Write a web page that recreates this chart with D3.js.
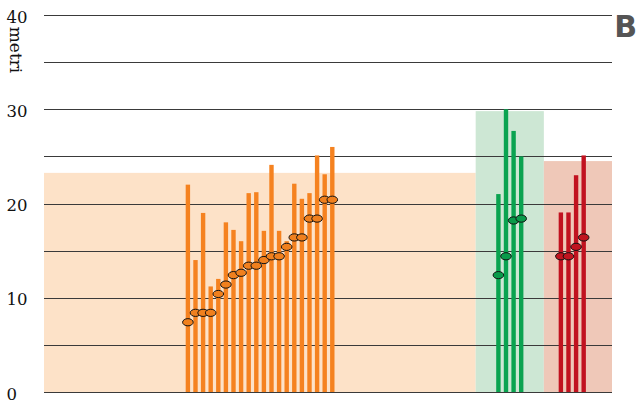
<!DOCTYPE html>
<html><head><meta charset="utf-8">
<script src="https://cdn.jsdelivr.net/npm/d3@7"></script>
<style>body{margin:0;background:#fff}svg{display:block}</style>
</head><body>
<script>
// Data
const orangeMax = [22, 14, 19, 11.2, 12, 18, 17.2, 16, 21.1, 21.2, 17.1, 24.1, 17.1, 16, 22.1, 20.5, 21.1, 25.1, 23.1, 26];
const orangeDot = [7.4, 8.4, 8.4, 8.4, 10.4, 11.4, 12.4, 12.65, 13.4, 13.4, 14, 14.4, 14.4, 15.4, 16.4, 16.4, 18.4, 18.4, 20.4, 20.4];
const greenMax = [21, 30, 27.7, 25];
const greenDot = [12.4, 14.4, 18.2, 18.4];
const redMax = [19.05, 19.05, 23, 25.1];
const redDot = [14.4, 14.4, 15.4, 16.4];
const bands = [
  {name: "orange", from: 0, to: 57, top: 23.25},
  {name: "green", from: 57, to: 66, top: 29.8},
  {name: "red", from: 66, to: 75, top: 24.5}
];
const yTicks = [0, 10, 20, 30, 40];
const gridTicks = [0, 5, 10, 15, 20, 25, 30, 35, 40];
const yLabel = "metri";
const panelLetter = "B";

const W = 638, H = 400;
const svg = d3.select("body").append("svg").attr("width", W).attr("height", H);

const x = d3.scaleLinear().domain([0, 75]).range([44, 612]);
const y = d3.scaleLinear().domain([0, 40]).range([392, 15]);

const colors = {
  orange: {bar: "#f58220", band: "#fde2c8", dot: "#f0801e"},
  green: {bar: "#0aa350", band: "#cde7d4", dot: "#0a9a4a"},
  red: {bar: "#c1121f", band: "#efc8b8", dot: "#c0141f"}
};

svg.selectAll("rect.band").data(bands).enter().append("rect")
  .attr("x", d => x(d.from)).attr("width", d => x(d.to) - x(d.from))
  .attr("y", d => y(d.top)).attr("height", d => y(0) - y(d.top))
  .attr("fill", d => colors[d.name].band);

svg.selectAll("line.grid").data(gridTicks).enter().append("line")
  .attr("x1", 44).attr("x2", 612)
  .attr("y1", d => Math.round(y(d)) + 0.5).attr("y2", d => Math.round(y(d)) + 0.5)
  .attr("stroke", "#3a3a3a").attr("stroke-width", 1.1);

const groups = [
  {name: "orange", max: orangeMax, dot: orangeDot, start: 19.0},
  {name: "green", max: greenMax, dot: greenDot, start: 60.0},
  {name: "red", max: redMax, dot: redDot, start: 68.25}
];
const step = 7.6 / ((612 - 44) / 75);

groups.forEach(g => {
  const gx = i => x(g.start + i * step);
  const gg = svg.append("g");
  gg.selectAll("rect").data(g.max).enter().append("rect")
    .attr("x", (d, i) => gx(i) - 2.2).attr("width", 4.4)
    .attr("y", d => y(d)).attr("height", d => y(0) - y(d))
    .attr("fill", colors[g.name].bar);
  gg.selectAll("ellipse").data(g.dot).enter().append("ellipse")
    .attr("cx", (d, i) => gx(i)).attr("cy", d => y(d))
    .attr("rx", 5.3).attr("ry", 3.6)
    .attr("fill", colors[g.name].dot).attr("stroke", "#111").attr("stroke-width", 1);
});

svg.selectAll("text.tick").data(yTicks).enter().append("text")
  .attr("x", 6.5).attr("y", d => y(d) + 7.7)
  .attr("text-anchor", "start")
  .attr("font-family", "'DejaVu Serif', serif").attr("font-size", 16.5)
  .attr("fill", "#111").text(d => d);

svg.append("text")
  .attr("transform", "translate(10,50) rotate(90)")
  .attr("text-anchor", "middle")
  .attr("font-family", "'DejaVu Serif', serif").attr("font-size", 17)
  .attr("fill", "#111").text(yLabel);

svg.append("text")
  .attr("x", 637).attr("y", 37).attr("text-anchor", "end")
  .attr("font-family", "'DejaVu Sans', sans-serif").attr("font-weight", "bold")
  .attr("font-size", 30).attr("fill", "#555").text(panelLetter);
</script>
</body></html>
